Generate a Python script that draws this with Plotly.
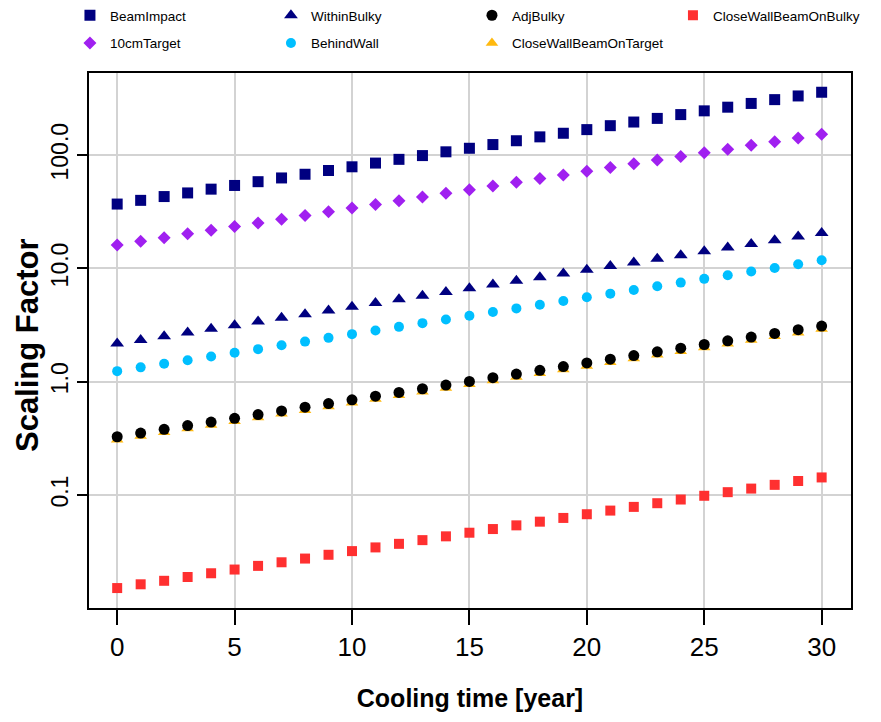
import plotly.graph_objects as go

years = list(range(0, 31))

beam_impact = [37.0, 39.9, 43.1, 46.4, 50.1, 54.0, 58.3, 62.9, 67.8, 73.2, 78.9,
               85.1, 91.8, 99.1, 107, 115, 124, 134, 145, 156, 168,
               182, 196, 211, 228, 246, 265, 286, 309, 333, 359]
target_10cm = [16.1, 17.4, 18.7, 20.2, 21.7, 23.4, 25.2, 27.2, 29.3, 31.6, 34.1,
               36.7, 39.6, 42.7, 46.0, 49.6, 53.5, 57.6, 62.1, 66.9, 72.2,
               77.8, 83.8, 90.4, 97.4, 105, 113, 122, 131, 142, 153]
within_bulky = [2.17, 2.34, 2.52, 2.72, 2.93, 3.16, 3.40, 3.67, 3.95, 4.26, 4.59,
                4.95, 5.34, 5.75, 6.20, 6.68, 7.20, 7.77, 8.37, 9.02, 9.73,
                10.5, 11.3, 12.2, 13.1, 14.2, 15.3, 16.4, 17.7, 19.1, 20.6]
behind_wall = [1.24, 1.34, 1.44, 1.55, 1.67, 1.80, 1.94, 2.10, 2.26, 2.44, 2.63,
               2.83, 3.05, 3.29, 3.54, 3.82, 4.12, 4.44, 4.78, 5.16, 5.56,
               5.99, 6.46, 6.96, 7.50, 8.09, 8.72, 9.39, 10.1, 10.9, 11.8]
adj_bulky = [0.327, 0.352, 0.380, 0.410, 0.441, 0.476, 0.513, 0.553, 0.596, 0.642, 0.692,
             0.746, 0.804, 0.867, 0.934, 1.007, 1.086, 1.170, 1.261, 1.360, 1.466,
             1.580, 1.703, 1.835, 1.978, 2.132, 2.298, 2.477, 2.670, 2.878, 3.102]
close_wall_target = [0.308, 0.332, 0.358, 0.386, 0.416, 0.448, 0.483, 0.521, 0.561, 0.605, 0.652,
                     0.703, 0.758, 0.817, 0.880, 0.949, 1.023, 1.102, 1.188, 1.281, 1.380,
                     1.488, 1.604, 1.729, 1.863, 2.008, 2.165, 2.333, 2.515, 2.711, 2.922]
close_wall_bulky = [0.0151, 0.0163, 0.0175, 0.0189, 0.0204, 0.0220, 0.0237, 0.0255, 0.0275, 0.0297, 0.0320,
                    0.0345, 0.0371, 0.0400, 0.0432, 0.0465, 0.0501, 0.0540, 0.0582, 0.0628, 0.0677,
                    0.0729, 0.0786, 0.0847, 0.0913, 0.0985, 0.106, 0.114, 0.123, 0.133, 0.143]

y_tickvals = [0.1, 1, 10, 100]
y_ticktext = ["0.1", "1.0", "10.0", "100.0"]
x_tickvals = [0, 5, 10, 15, 20, 25, 30]

REG = "Liberation Sans, Arial, sans-serif"

# (name, data, symbol, color, size, legend, rank) in drawing order
series = [
    ("CloseWallBeamOnTarget", close_wall_target, "triangle-up", "#FFB90F", 11, "legend2", 7),
    ("BeamImpact", beam_impact, "square", "#000080", 11, "legend", 1),
    ("WithinBulky", within_bulky, "triangle-up", "#000080", 12, "legend", 2),
    ("AdjBulky", adj_bulky, "circle", "#000000", 11, "legend", 3),
    ("CloseWallBeamOnBulky", close_wall_bulky, "square", "#FF3030", 10, "legend", 4),
    ("10cmTarget", target_10cm, "diamond", "#A020F0", 10, "legend2", 5),
    ("BehindWall", behind_wall, "circle", "#00BFFF", 10, "legend2", 6),
]

fig = go.Figure()
for name, vals, sym, col, size, leg, rank in series:
    fig.add_trace(go.Scatter(
        x=years, y=vals, mode="markers", name=name,
        marker=dict(symbol=sym, color=col, size=size, line=dict(width=0)),
        legend=leg, legendrank=rank,
    ))

legend_common = dict(
    orientation="h", xanchor="left", yanchor="top",
    font=dict(family=REG, size=13.5, color="#000000"),
    bgcolor="rgba(0,0,0,0)", borderwidth=0,
    entrywidth=156, entrywidthmode="pixels", itemwidth=30,
    traceorder="normal",
)

fig.update_layout(
    width=881, height=722,
    margin=dict(l=81, r=38, t=65, b=122, autoexpand=False),
    paper_bgcolor="white", plot_bgcolor="white",
    showlegend=True,
    legend=dict(x=-0.025, y=1.1365, **legend_common),
    legend2=dict(x=-0.025, y=1.0845, **legend_common),
    xaxis=dict(
        range=[-1.2, 31.25], tickvals=x_tickvals,
        ticks="outside", ticklen=15, tickwidth=2, tickcolor="#000000",
        tickfont=dict(family=REG, size=26, color="#000000"),
        showgrid=True, gridcolor="#D3D3D3", gridwidth=2,
        showline=True, linecolor="#000000", linewidth=2, mirror=True,
        zeroline=False, automargin=False,
        title=dict(text="<b>Cooling time [year]</b>",
                   font=dict(family=REG, size=25, color="#000000"), standoff=28),
    ),
    yaxis=dict(
        type="log", range=[-1.997, 2.725],
        tickvals=y_tickvals, ticktext=y_ticktext, tickangle=-90,
        ticks="outside", ticklen=10, tickwidth=2, tickcolor="#000000",
        tickfont=dict(family=REG, size=23, color="#000000"),
        showgrid=True, gridcolor="#D3D3D3", gridwidth=2,
        showline=True, linecolor="#000000", linewidth=2, mirror=True,
        zeroline=False, automargin=False,
    ),
    annotations=[dict(
        text="<b>Scaling Factor</b>", textangle=-90,
        xref="paper", yref="paper", x=-0.080, y=0.4916,
        xanchor="center", yanchor="middle", showarrow=False,
        font=dict(family=REG, size=31, color="#000000"),
    )],
)

fig.write_html("out.html")
